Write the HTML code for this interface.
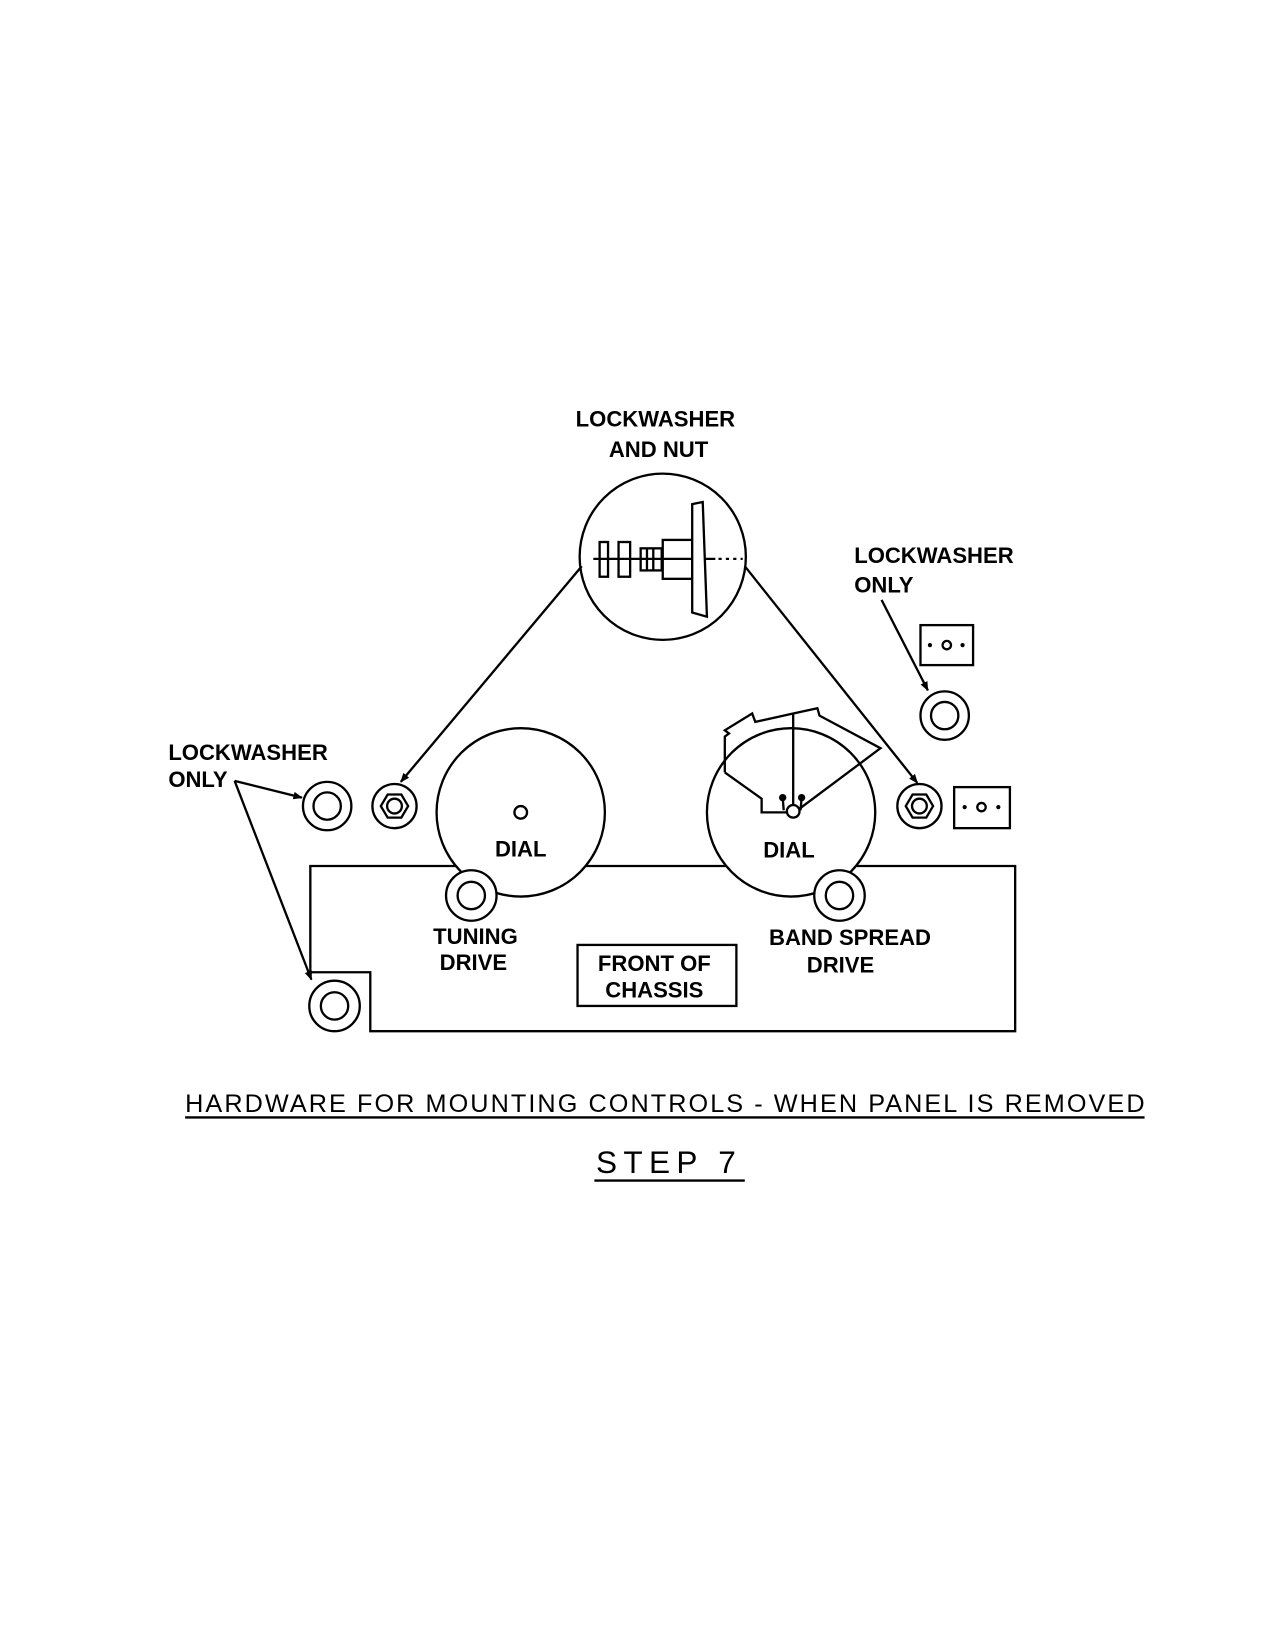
<!DOCTYPE html>
<html><head><meta charset="utf-8"><style>
html,body{margin:0;padding:0;background:#fff;}
svg{display:block;}
text{font-family:"Liberation Sans",sans-serif;font-weight:bold;fill:#000;}
</style></head><body>
<svg width="1275" height="1650" viewBox="0 0 1212 1568" xmlns="http://www.w3.org/2000/svg">
<defs>
<marker id="ah" viewBox="0 0 10 10" refX="9" refY="5" markerWidth="9" markerHeight="9" orient="auto" markerUnits="userSpaceOnUse">
<path d="M0,1 L10,5 L0,9 z" fill="#000"/></marker>
</defs>
<g fill="none" stroke="#000" stroke-width="2.2">
<path d="M352,924 L295,924 L295,823 L965,823 L965,980 L352,980 Z" fill="#fff"/>
<circle cx="495" cy="772" r="80" fill="#fff"/>
<circle cx="495" cy="772" r="6"/>
<circle cx="752" cy="772" r="80" fill="#fff"/>
<path d="M689,734 L689,700 L693,697 L689,694 L715,678 L718,686 L754,678 L777,673 L779,680 L837,711 L754,773 M754,678 L754,773 M689,734 L724,759 L724,772 L748,772"/>
<circle cx="754" cy="771" r="6" fill="#fff"/>
<line x1="744" y1="758" x2="745" y2="770"/><line x1="762" y1="758" x2="761" y2="770"/>
<circle cx="448" cy="851" r="24" fill="#fff"/><circle cx="448" cy="851" r="13"/>
<circle cx="798" cy="851" r="24" fill="#fff"/><circle cx="798" cy="851" r="13"/>
<circle cx="311" cy="766" r="23"/><circle cx="311" cy="766" r="13"/>
<circle cx="318" cy="956" r="24" fill="#fff"/><circle cx="318" cy="956" r="13"/>
<circle cx="898" cy="680" r="23"/><circle cx="898" cy="680" r="13"/>
<circle cx="375" cy="766" r="21"/>
<polygon points="388,766 381.5,777 368.5,777 362,766 368.5,755 381.5,755"/>
<circle cx="375" cy="766" r="7"/>
<circle cx="874" cy="766" r="21"/>
<polygon points="887,766 880.5,777 867.5,777 861,766 867.5,755 880.5,755"/>
<circle cx="874" cy="766" r="7"/>
<rect x="875" y="594" width="50" height="38"/>
<rect x="907" y="748" width="53" height="39"/>
<circle cx="900" cy="613" r="4"/><circle cx="933" cy="767" r="4"/>
<circle cx="630" cy="529" r="79" fill="#fff"/>
<line x1="564" y1="531" x2="680" y2="531"/>
<line x1="683" y1="531" x2="706" y2="531" stroke-dasharray="3,4"/>
<rect x="570" y="515" width="8" height="33"/>
<rect x="588" y="515" width="11" height="33"/>
<rect x="609" y="521" width="20" height="21"/>
<line x1="615" y1="521" x2="615" y2="542"/><line x1="621" y1="521" x2="621" y2="542"/>
<rect x="630" y="513" width="28" height="37"/>
<path d="M658,479 L668,477 L672,586 L658,582 Z" fill="#fff"/>
<line x1="553" y1="538" x2="381" y2="743" marker-end="url(#ah)"/>
<line x1="708" y1="538" x2="872" y2="744" marker-end="url(#ah)"/>
<line x1="838" y1="570" x2="882" y2="656" marker-end="url(#ah)"/>
<line x1="223" y1="742" x2="287" y2="758" marker-end="url(#ah)"/>
<line x1="223" y1="742" x2="296" y2="931" marker-end="url(#ah)"/>
<rect x="549" y="898" width="151" height="58" fill="#fff"/>
<line x1="176" y1="1062" x2="1088" y2="1062"/>
<line x1="565" y1="1122" x2="708" y2="1122"/>
</g>
<g fill="#000">
<circle cx="744" cy="758" r="3.5"/><circle cx="762" cy="758" r="3.5"/>
<circle cx="884" cy="613" r="2"/><circle cx="915" cy="613" r="2"/>
<circle cx="917" cy="767" r="2"/><circle cx="949" cy="767" r="2"/>
</g>
<g font-size="21" text-anchor="middle">
<text x="623" y="405">LOCKWASHER</text>
<text x="626" y="434">AND NUT</text>
<text x="812" y="535" text-anchor="start">LOCKWASHER</text>
<text x="812" y="563" text-anchor="start">ONLY</text>
<text x="160" y="722" text-anchor="start">LOCKWASHER</text>
<text x="160" y="748" text-anchor="start">ONLY</text>
<text x="495" y="814">DIAL</text>
<text x="750" y="815">DIAL</text>
<text x="452" y="897">TUNING</text>
<text x="450" y="922">DRIVE</text>
<text x="808" y="898">BAND SPREAD</text>
<text x="799" y="924">DRIVE</text>
<text x="622" y="923">FRONT OF</text>
<text x="622" y="948">CHASSIS</text>
</g>
<text x="632" y="1057" font-size="24" text-anchor="middle" style="font-weight:normal" textLength="912">HARDWARE  FOR  MOUNTING  CONTROLS - WHEN  PANEL  IS  REMOVED</text>
<text x="636" y="1115" font-size="30" text-anchor="middle" style="font-weight:normal" letter-spacing="6">STEP 7</text>
</svg>
</body></html>
